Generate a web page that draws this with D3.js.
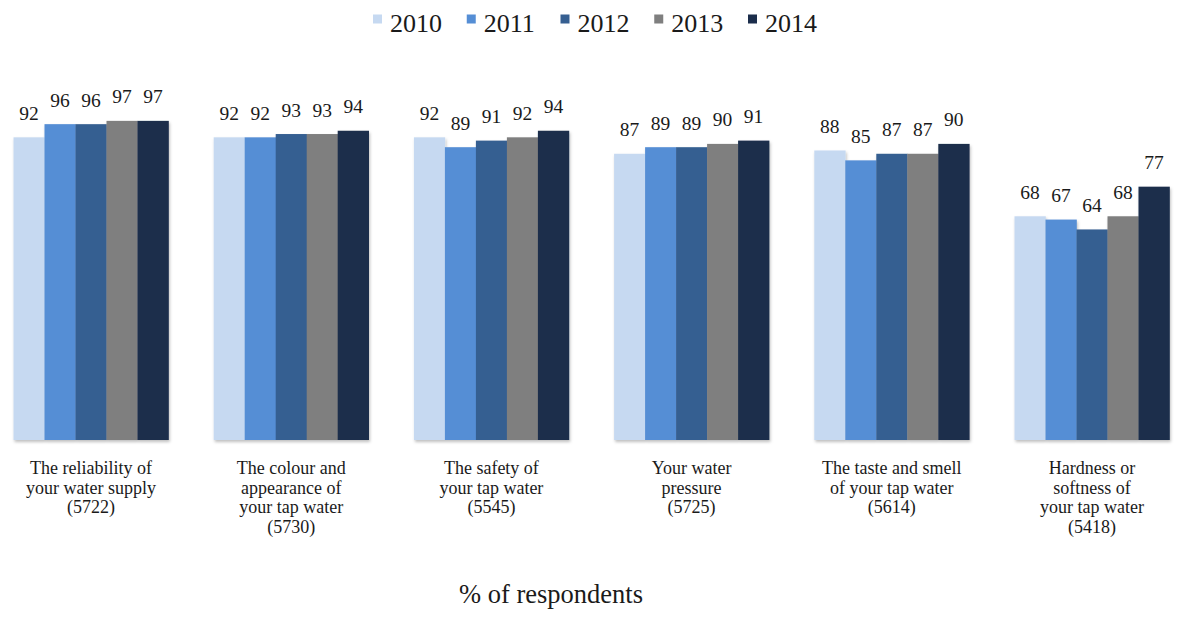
<!DOCTYPE html>
<html>
<head>
<meta charset="utf-8">
<script src="https://cdn.jsdelivr.net/npm/d3@7"></script>
<style>
  html, body { margin: 0; padding: 0; background: #ffffff; }
  svg { display: block; }
</style>
</head>
<body>
<svg id="chart" width="1187" height="620"></svg>
<script>
const categories = [
  ["The reliability of", "your water supply", "(5722)"],
  ["The colour and", "appearance of", "your tap water", "(5730)"],
  ["The safety of", "your tap water", "(5545)"],
  ["Your water", "pressure", "(5725)"],
  ["The taste and smell", "of your tap water", "(5614)"],
  ["Hardness or", "softness of", "your tap water", "(5418)"]
];
const years = ["2010", "2011", "2012", "2013", "2014"];
const v2010 = [92, 92, 92, 87, 88, 68];
const v2011 = [96, 92, 89, 89, 85, 67];
const v2012 = [96, 93, 91, 89, 87, 64];
const v2013 = [97, 93, 92, 90, 87, 68];
const v2014 = [97, 94, 94, 91, 90, 77];
const seriesValues = [v2010, v2011, v2012, v2013, v2014];
const colors = ["#c6d9f1", "#558ed5", "#365f91", "#7f7f7f", "#1b2d4b"];
const axisTitle = "% of respondents";

const svg = d3.select("#chart");
const FONT = "'Liberation Serif', 'Times New Roman', Times, serif";

const defs = svg.append("defs");
const f = defs.append("filter").attr("id", "shadow")
  .attr("x", "-10%").attr("y", "-10%").attr("width", "130%").attr("height", "130%");
f.append("feDropShadow").attr("dx", 1).attr("dy", 2).attr("stdDeviation", 1.5)
  .attr("flood-color", "#000").attr("flood-opacity", 0.25);

const catIdx = d3.range(categories.length);
const x0 = d3.scaleBand().domain(catIdx).range([13.5, 1169.5]).paddingInner(0.2258).paddingOuter(0);
const x1 = d3.scaleBand().domain(years).range([0, x0.bandwidth()]).padding(0);
const y = d3.scaleLinear().domain([0, 100]).range([440, 111]);
const color = d3.scaleOrdinal().domain(years).range(colors);

// Bars
const groups = svg.append("g").selectAll("g")
  .data(catIdx).join("g")
  .attr("transform", i => `translate(${x0(i)},0)`);

groups.append("g").attr("filter", "url(#shadow)")
  .selectAll("rect")
  .data(i => years.map((yr, k) => ({ yr, v: seriesValues[k][i] })))
  .join("rect")
  .attr("x", d => x1(d.yr))
  .attr("width", x1.bandwidth() + 0.3)
  .attr("y", d => y(d.v))
  .attr("height", d => y(0) - y(d.v))
  .attr("fill", d => color(d.yr));

// Value labels
groups.selectAll("text.val")
  .data(i => years.map((yr, k) => ({ yr, v: seriesValues[k][i] })))
  .join("text")
  .attr("class", "val")
  .attr("x", d => x1(d.yr) + x1.bandwidth() / 2)
  .attr("y", d => y(d.v) - 17.5)
  .attr("text-anchor", "middle")
  .style("font-family", FONT)
  .attr("font-size", 19.5)
  .attr("fill", "#1a1a1a")
  .text(d => d.v);

// Category labels
const xAxisG = svg.append("g");
catIdx.forEach(i => {
  const t = xAxisG.append("text")
    .attr("x", x0(i) + x0.bandwidth() / 2)
    .attr("y", 474)
    .attr("text-anchor", "middle")
    .style("font-family", FONT)
    .attr("fill", "#1a1a1a")
    .attr("font-size", 18);
  categories[i].forEach((line, j) => {
    t.append("tspan")
      .attr("x", x0(i) + x0.bandwidth() / 2)
      .attr("dy", j === 0 ? 0 : 19.5)
      .text(line);
  });
});

// Legend
const legend = svg.append("g").attr("transform", "translate(373,0)");
const li = legend.selectAll("g").data(years).join("g")
  .attr("transform", (d, i) => `translate(${i * 93.75},0)`);
li.append("rect").attr("x", 0).attr("y", 14.5).attr("width", 9).attr("height", 9)
  .attr("fill", d => color(d));
li.append("text").attr("x", 17).attr("y", 32)
  .style("font-family", FONT).attr("fill", "#1a1a1a")
  .attr("font-size", 26).text(d => d);

// Axis title
svg.append("text")
  .attr("x", 551).attr("y", 603)
  .attr("text-anchor", "middle")
  .style("font-family", FONT).attr("fill", "#1a1a1a")
  .attr("font-size", 26.5)
  .text(axisTitle);
</script>
</body>
</html>
